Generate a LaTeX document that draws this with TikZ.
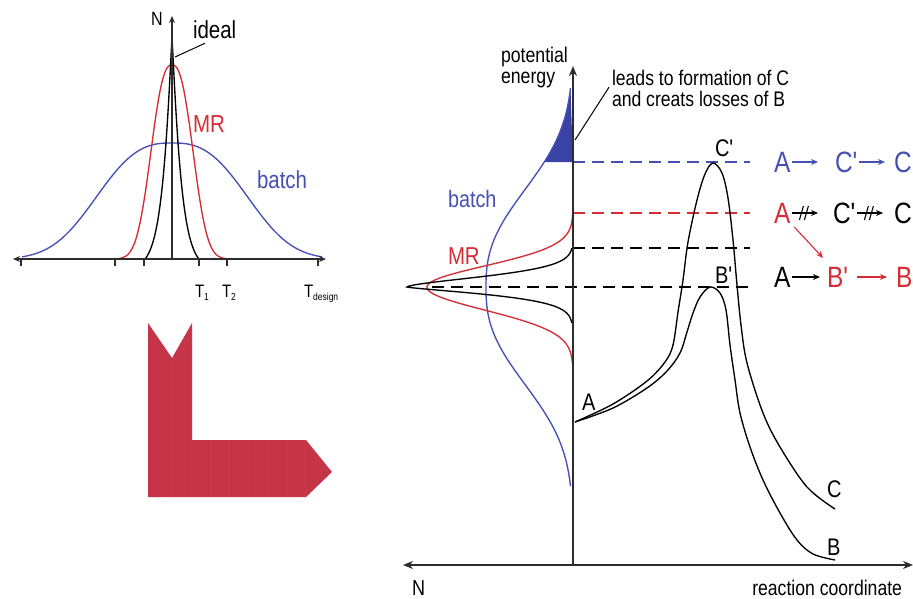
\documentclass[tikz,border=0pt]{standalone}
\usepackage{fontspec}
\setmainfont{Liberation Sans}
\usepackage{graphicx}
\usetikzlibrary{arrows.meta}
\definecolor{bl}{RGB}{70,80,180}
\definecolor{blfill}{RGB}{58,66,165}
\definecolor{rd}{RGB}{214,44,52}
\definecolor{Lred}{RGB}{198,52,72}
\definecolor{ax}{RGB}{45,45,45}
\newcommand{\vs}[1]{\scalebox{1}[1.2]{#1}}
\newcommand{\fs}[1]{\fontsize{#1}{#1}\selectfont}
\newcommand{\pr}{\textquotesingle}
\begin{document}
\begin{tikzpicture}[x=1pt,y=-1pt,
  declare function={
    sg(\dd,\ww,\pp)=exp(max(-9,-exp(max(-9,\pp*ln(abs(\dd)/\ww+0.0001)))));
    gs(\dd,\ss)=exp(max(-9,-(\dd/\ss)*(\dd/\ss)/2));
  },
  txt/.style={inner sep=0pt,outer sep=0pt},
  curve/.style={line width=1.35pt},
  axisl/.style={draw=ax,line width=1.4pt},
  guide/.style={line width=1.3pt,dash pattern=on 12pt off 7pt},
  sarr/.style={line width=1.1pt,-{Stealth[length=7pt,width=6pt]}},
]
\useasboundingbox (0,0) rectangle (913,598);

% ================= left plot =================
\draw[bl,curve] plot[domain=22:322,samples=151] (\x,{259-116*sg(\x-172,90,2.7)});
\draw[rd,curve] plot[domain=118:226,samples=109] (\x,{259-194*sg(\x-172,26,2.5)});
\draw[curve] plot[domain=145:199,samples=109] (\x,{259-221*max(0,(sg(\x-172,9.5,1.1)-0.043)/0.957)});
\draw[axisl,{Stealth[length=7pt,width=6pt]}-{Stealth[length=7pt,width=6pt]}] (13,259) -- (326,259);
\draw[axisl,-{Stealth[length=7pt,width=6pt]}] (172,259) -- (172,16);
\foreach \t in {21,115,144,199,227,318} \draw[axisl,line width=1.2pt] (\t,259) -- (\t,266);

\node[txt,anchor=base west,font=\fs{16}] (nL) at (151,25) {\vs{N}};
\node[txt,anchor=base west,font=\fs{20.5}] (ideal) at (193,38) {\vs{ideal}};
\coordinate (idealtip) at (175,57);
\draw[line width=1pt] (idealtip) -- ([xshift=12pt,yshift=-5pt]ideal.south west);
\node[txt,anchor=base west,font=\fs{20.5},text=rd] (mrL) at (193,132) {\vs{MR}};
\node[txt,anchor=base west,font=\fs{20.5},text=bl] (batchL) at (257,188) {\vs{batch}};
\node[txt,anchor=base west,font=\fs{15}] (t1) at (195,297) {\vs{T\raisebox{-3pt}{\fs{8.5}1}}};
\node[txt,anchor=base west,font=\fs{15}] (t2) at (222,297) {\vs{T\raisebox{-3pt}{\fs{8.5}2}}};
\node[txt,anchor=base west,font=\fs{15}] (td) at (304,297) {\vs{T\raisebox{-3pt}{\fs{8.5}design}}};

% ================= L arrow =================
\fill[Lred] (148,323) -- (172,358) -- (192,323) -- (192,440) -- (306,440) -- (332,472) -- (306,497) -- (148,497) -- cycle;
\begin{scope}
\clip (148,323) -- (172,358) -- (192,323) -- (192,440) -- (306,440) -- (332,472) -- (306,497) -- (148,497) -- cycle;
\foreach \s in {172,191,210,229,248,267,286,305}
  \draw[white,opacity=0.04,line width=0.6pt] (\s,323) -- (\s,497);
\end{scope}

% ================= right plot =================
\fill[blfill] (573,162) -- plot[domain=162:88,samples=60] ({573-87*sg(\x-287,120,2.5)},\x) -- cycle;
\draw[bl,curve] plot[domain=88:486,samples=200] ({573-87*sg(\x-287,120,2.5)},\x);
\draw[rd,curve] plot[domain=213:287,samples=75] ({573-146*gs(\x-287,21)},\x)
  -- plot[domain=287:363,samples=77] ({573-146*gs(\x-287,23)},\x);
\draw[curve] plot[domain=248:287,samples=79] ({573-166*sg(\x-287,14.3,1.6)},\x)
  -- plot[domain=287:323,samples=73] ({573-166*sg(\x-287,10.5,1.3)},\x);

% guide lines
\draw[guide,bl] (573,162) -- (750,162);
\draw[guide,rd] (573,213) -- (750,213);
\draw[guide] (573,248) -- (750,248);
\draw[guide] (432,287) -- (750,287);

% energy profiles
\draw[curve] plot[smooth,tension=0.55] coordinates {(575,422) (613,404) (647,381) (665,362) (673,345) (678,312) (683,280) (688,242) (697,200) (705,174) (713,163) (722,173) (728,198) (733,240) (737,285) (741,325) (747,363) (763,413) (780,447) (807,487) (835,509)};
\draw[curve] plot[smooth,tension=0.55] coordinates {(575,422) (613,408) (647,388) (667,371) (680,353) (687,332) (693,313) (700,297) (710,287) (720,293) (726,310) (730,345) (735,380) (740,413) (750,447) (763,480) (780,513) (797,540) (813,554) (835,560)};

% axes
\draw[axisl,{Stealth[length=10pt,width=8pt]}-{Stealth[length=10pt,width=8pt]}] (403,565) -- (913,565);
\draw[axisl,-{Stealth[length=10pt,width=8pt]}] (573,565) -- (573,66);

% labels
\node[txt,anchor=base west,font=\fs{17.7}] (pot) at (501,62.5) {\vs{potential}};
\node[txt,anchor=base west,font=\fs{17.7}] (en) at (501,83) {\vs{energy}};
\node[txt,anchor=base west,font=\fs{17.6}] (lead1) at (612,85) {\vs{leads to formation of C}};
\node[txt,anchor=base west,font=\fs{17.6}] (lead2) at (612,106.7) {\vs{and creats losses of B}};
\coordinate (filltip) at (575,140);
\draw[line width=1pt] (filltip) -- ([xshift=-3pt,yshift=-2pt]lead1.south west);
\node[txt,anchor=base west,font=\fs{19.8},text=bl] (batchR) at (448,207) {\vs{batch}};
\node[txt,anchor=base west,font=\fs{20.4},text=rd] (mrR) at (448,264) {\vs{MR}};
\node[txt,anchor=base west,font=\fs{18}] (nR) at (412,595) {\vs{N}};
\node[txt,anchor=base east,font=\fs{17.6}] (rc) at (902,595) {\vs{reaction coordinate}};
\node[txt,anchor=base west,font=\fs{20}] (cpl) at (715,156) {\vs{C\pr}};
\node[txt,anchor=base west,font=\fs{20}] (bpl) at (715,283) {\vs{B\pr}};
\node[txt,anchor=base west,font=\fs{20}] (al) at (582,410) {\vs{A}};
\node[txt,anchor=base west,font=\fs{20}] (cl) at (827,497) {\vs{C}};
\node[txt,anchor=base west,font=\fs{20}] (bll) at (827,555) {\vs{B}};

% reaction schemes
\begin{scope}[every node/.style={txt,anchor=west,font=\fs{24.5}}]
\node[text=bl] (a1) at (774,162) {\vs{A}};
\node[text=bl] (c1) at (835,162) {\vs{C\pr}};
\node[text=bl] (d1) at (894,162) {\vs{C}};
\node[text=rd] (a2) at (774,213) {\vs{A}};
\node (c2) at (833,213) {\vs{C\pr}};
\node (d2) at (894,213) {\vs{C}};
\node (a3) at (774,277) {\vs{A}};
\node[text=rd] (b3) at (827,277) {\vs{B\pr}};
\node[text=rd] (e3) at (896,277) {\vs{B}};
\end{scope}
\draw[sarr,bl] ([xshift=2pt]a1.east) -- ([xshift=-17pt]c1.west);
\draw[sarr,bl] ([xshift=2pt]c1.east) -- ([xshift=-9pt]d1.west);
\draw[sarr] ([xshift=2pt]a2.east) -- coordinate[pos=0.45] (s1) ([xshift=-15pt]c2.west);
\draw[sarr] ([xshift=2pt]c2.east) -- coordinate[pos=0.45] (s2) ([xshift=-11pt]d2.west);
\foreach \s in {s1,s2} {
  \draw[line width=1.1pt] ([shift={(-4.5pt,-7pt)}]\s) -- ([shift={(-0.5pt,7pt)}]\s);
  \draw[line width=1.1pt] ([shift={(0.5pt,-7pt)}]\s) -- ([shift={(4.5pt,7pt)}]\s);
}
\draw[sarr] ([xshift=2pt]a3.east) -- ([xshift=-7pt]b3.west);
\draw[sarr,rd] ([xshift=9pt]b3.east) -- ([xshift=-9pt]e3.west);
\draw[sarr,rd] ([xshift=4pt,yshift=-4pt]a2.south east) -- ([xshift=-4pt,yshift=9pt]b3.north west);
\end{tikzpicture}
\end{document}
